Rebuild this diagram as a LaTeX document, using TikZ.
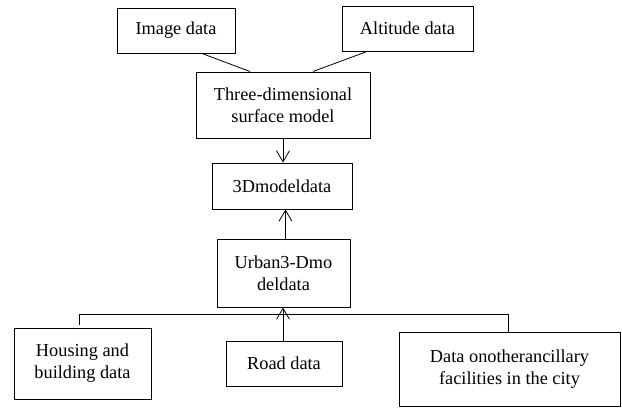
\documentclass[tikz,border=0pt]{standalone}
\usepackage{fontspec}
\setmainfont{Liberation Serif}
\usetikzlibrary{arrows.meta}
\newcommand{\boxfont}{\fontsize{18.3pt}{22pt}\selectfont}
\begin{document}
\begin{tikzpicture}[x=1pt,y=-1pt,
  box/.style={draw,line width=1pt,align=center,inner sep=0pt,font=\boxfont},
  conn/.style={line width=0.8pt},
  arr/.style={conn,-{Straight Barb[length=11pt,width=13pt,line width=0.8pt]}}]
\useasboundingbox (0,0) rectangle (622,408);
\node[box,minimum width=118pt,minimum height=45pt] (img) at (176,30.5) {Image data};
\node[box,minimum width=131pt,minimum height=45pt] (alt) at (407.5,28.5) {Altitude data};
\node[box,minimum width=174pt,minimum height=66pt] (tdm) at (283,105) {Three-dimensional\\surface model};
\node[box,minimum width=140pt,minimum height=46pt] (md) at (282,186) {3Dmodeldata};
\node[box,minimum width=133pt,minimum height=68pt] (urb) at (283.5,273) {Urban3-Dmo\\deldata};
\node[box,minimum width=137pt,minimum height=71pt] (house) at (82.5,363.5) {Housing and\\building data};
\node[box,minimum width=116pt,minimum height=45pt] (road) at (284,363.5) {Road data};
\node[box,minimum width=221pt,minimum height=74pt] (fac) at (509.5,369) {Data onotherancillary\\facilities in the city};
\draw[conn] ([xshift=26pt]img.south) -- ([xshift=-33pt]tdm.north);
\draw[conn] ([xshift=-40.5pt]alt.south) -- ([xshift=30pt]tdm.north);
\draw[arr] (tdm.south) -- (tdm.south |- md.north);
\draw[arr] ([xshift=2pt]urb.north) -- ([xshift=2pt]urb.north |- md.south);
\draw[arr] ([xshift=-1pt]road.north) -- ([xshift=-1pt]road.north |- urb.south);
\coordinate (bl) at (79,314);
\coordinate (br) at (508,314);
\draw[conn] ([xshift=-3.5pt,yshift=3pt]house.north) -- (bl) -- (br) -- ([xshift=-1.5pt]fac.north);
\end{tikzpicture}
\end{document}
